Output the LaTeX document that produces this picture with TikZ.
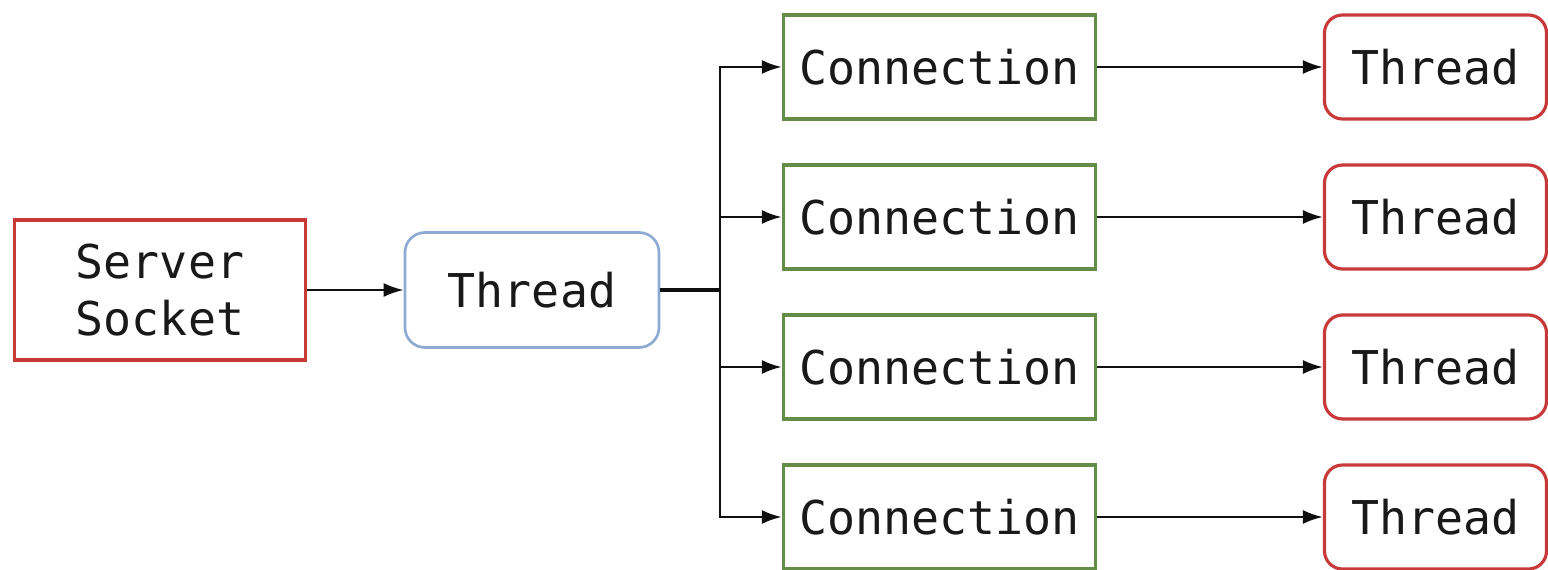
\documentclass[tikz,border=0pt]{standalone}
\usepackage{fontspec}
\setmonofont{DejaVu Sans Mono}
\usetikzlibrary{arrows.meta}
\definecolor{bred}{RGB}{200,58,58}
\definecolor{bblue}{RGB}{140,170,212}
\definecolor{bgreen}{RGB}{98,140,72}
\definecolor{lcol}{RGB}{15,15,15}
\tikzset{
  every node/.style={font=\ttfamily\fontsize{26.5}{32}\selectfont, text=black!90, align=center, inner sep=0pt},
  srvbox/.style={draw=bred, line width=1.8pt, minimum width=5.82cm, minimum height=2.8cm},
  thrbox/.style={draw=bblue, line width=1.5pt, rounded corners=0.4cm, minimum width=5.08cm, minimum height=2.3cm},
  conbox/.style={draw=bgreen, line width=1.8pt, minimum width=6.24cm, minimum height=2.08cm},
  redthr/.style={draw=bred, line width=1.8pt, rounded corners=0.36cm, minimum width=4.44cm, minimum height=2.08cm},
  conn/.style={draw=lcol, line width=1.4pt, -{Latex[length=0.4cm,width=0.28cm]}},
}
\begin{document}
\begin{tikzpicture}
\useasboundingbox (0,0) rectangle (30.96,11.4);
\node[srvbox] (srv) at (3.2,5.6) {Server\\Socket};
\node[thrbox] (thr) at (10.64,5.6) {Thread};
\coordinate (jn) at (14.4,5.6);
\foreach \i/\y in {1/10.06,2/7.06,3/4.06,4/1.06}{
  \node[conbox] (c\i) at (18.79,\y) {Connection};
  \node[redthr] (t\i) at (28.71,\y) {Thread};
  \draw[conn, line width=1.6pt] (jn) |- (c\i.west);
  \draw[conn] (c\i.east) -- (t\i.west);
}
\draw[conn] (srv.east) -- (thr.west);
\draw[draw=lcol, line width=2.2pt] (thr.east) -- (jn);
\end{tikzpicture}
\end{document}
